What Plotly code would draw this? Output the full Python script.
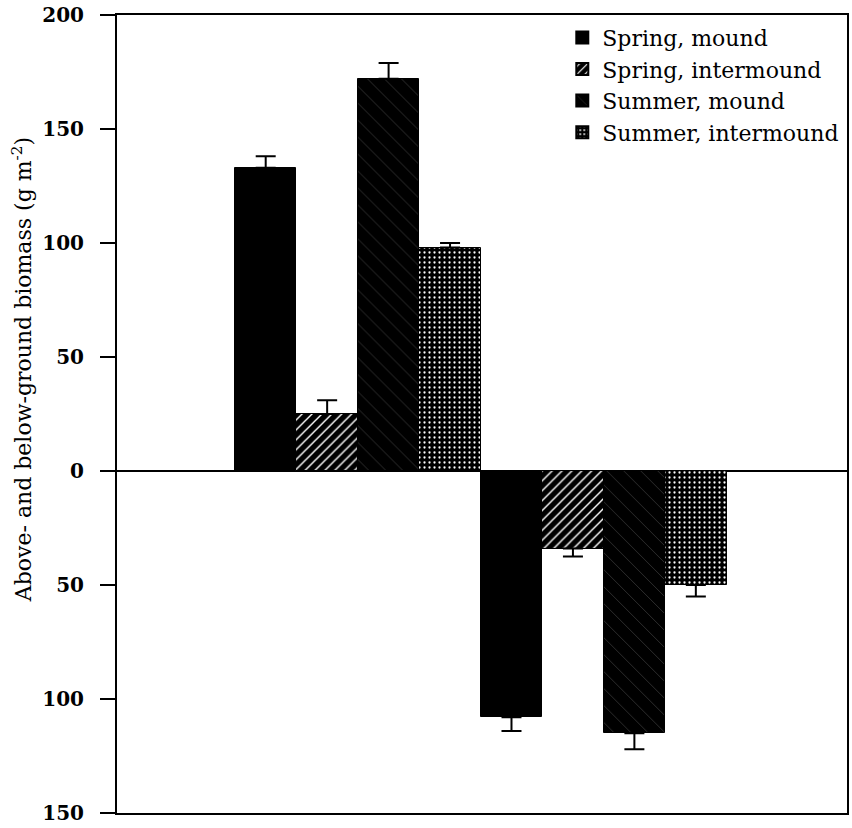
import plotly.graph_objects as go

groups = ["Above-ground", "Below-ground"]
series = ["Spring, mound", "Spring, intermound", "Summer, mound", "Summer, intermound"]
# biomass (g m-2); below-ground plotted as negative
values = {
    "Spring, mound": [133, -108],
    "Spring, intermound": [25, -34],
    "Summer, mound": [172, -115],
    "Summer, intermound": [98, -50],
}
errors = {
    "Spring, mound": [5, 6],
    "Spring, intermound": [6, 3.5],
    "Summer, mound": [7, 7],
    "Summer, intermound": [2, 5],
}
tick_vals = [200, 150, 100, 50, 0, -50, -100, -150]
tick_text = ["200", "150", "100", "50", "0", "50", "100", "150"]

patterns = {
    "Spring, mound": dict(shape=""),
    "Spring, intermound": dict(shape="/", fgcolor="white", bgcolor="black", size=7, solidity=0.2, fillmode="replace"),
    "Summer, mound": dict(shape="\\", fgcolor="white", bgcolor="black", size=12, solidity=0.015, fillmode="replace"),
    "Summer, intermound": dict(shape=".", fgcolor="white", bgcolor="black", size=5, solidity=0.16, fillmode="replace"),
}

fig = go.Figure()
for s in series:
    vals = values[s]
    errs = errors[s]
    up = [e if v >= 0 else 0 for v, e in zip(vals, errs)]
    down = [e if v < 0 else 0 for v, e in zip(vals, errs)]
    fig.add_trace(go.Bar(
        x=groups, y=vals, name=s, legendgroup=s,
        marker=dict(color="black", line=dict(color="black", width=1), pattern=patterns[s]),
        error_y=dict(type="data", symmetric=False, array=up, arrayminus=down,
                     color="black", thickness=2, width=10),
    ))

fig.update_layout(
    width=852, height=828,
    margin=dict(l=117, r=3, t=15, b=13),
    paper_bgcolor="white", plot_bgcolor="white",
    barmode="group", bargap=0, bargroupgap=0,
    font=dict(family="DejaVu Serif", color="black"),
    showlegend=True,
    legend=dict(x=0.61, y=0.998, xanchor="left", yanchor="top",
                font=dict(size=22, family="DejaVu Serif"),
                bgcolor="rgba(0,0,0,0)", tracegroupgap=0, itemsizing="constant"),
    xaxis=dict(range=[-0.98, 1.99], showticklabels=False, ticks="",
               showline=True, mirror=True, linecolor="black", linewidth=2,
               showgrid=False, zeroline=False),
    yaxis=dict(range=[-150, 200], tickvals=tick_vals, ticktext=tick_text,
               ticks="outside", ticklen=15, tickwidth=1.5, tickcolor="black",
               ticklabelstandoff=12,
               tickfont=dict(size=20, family="DejaVu Serif", weight="bold"),
               showline=True, mirror=True, linecolor="black", linewidth=2,
               showgrid=False, zeroline=True, zerolinecolor="black", zerolinewidth=1.5),
)
fig.add_annotation(
    text="Above- and below-ground biomass (g m<sup>-2</sup>)",
    xref="paper", yref="paper", x=-0.13, y=0.555, textangle=-90,
    showarrow=False, xanchor="center", yanchor="middle",
    font=dict(size=22, family="DejaVu Serif"),
)
fig.write_html("out.html", config={"displayModeBar": False},
               post_script="document.body.style.margin='0';")
